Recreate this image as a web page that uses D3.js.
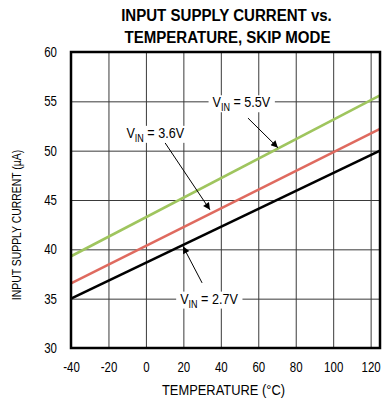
<!DOCTYPE html>
<html>
<head>
<meta charset="utf-8">
<script src="https://cdn.jsdelivr.net/npm/d3@7"></script>
<style>
	body { margin: 0; background: #fff; }
	text { font-family: 'Liberation Sans', Arial, sans-serif; fill: #000; }
	.grid line { stroke: #3a3a3a; stroke-width: 1; }
	.grid path { display: none; }
	.ticks path, .ticks line { display: none; }
</style>
</head>
<body>
<div id="chart"></div>
<script>
const temps = [-40, 125];
const vin27 = [35.0, 50.0];
const vin36 = [36.55, 52.2];
const vin55 = [39.3, 55.6];
const xTicks = [-40, -20, 0, 20, 40, 60, 80, 100, 120];
const yTicks = [30, 35, 40, 45, 50, 55, 60];

const series = [
	{ name: '5.5V', values: vin55, color: '#9fc55e' },
	{ name: '3.6V', values: vin36, color: '#df6a5f' },
	{ name: '2.7V', values: vin27, color: '#000' },
];

// label anchor and arrow (from -> to) in data units
const notes = [
	{ text: '5.5V', at: [51, 54.4], from: [54.5, 53.3], to: [70.5, 50.3] },
	{ text: '3.6V', at: [5, 51.3], from: [10.2, 50.8], to: [34.2, 44.0] },
	{ text: '2.7V', at: [33.7, 34.5], from: [30, 36.6], to: [19.8, 40.3] },
];

const size = { width: 390, height: 408 };
const margin = { top: 52, right: 10, bottom: 60, left: 71 };
const w = size.width - margin.left - margin.right;
const h = size.height - margin.top - margin.bottom;

const x = d3.scaleLinear().domain([-40, 125]).range([0, w]);
const y = d3.scaleLinear().domain([30, 60]).range([h, 0]);

// squeeze text to look like a narrow face
function narrow(sel, k) {
	sel.each(function () {
		const len = this.getComputedTextLength();
		d3.select(this).attr('textLength', len * k).attr('lengthAdjust', 'spacingAndGlyphs');
	});
}

const svg = d3.select('#chart').append('svg')
	.attr('width', size.width).attr('height', size.height);

svg.append('defs').append('marker').attr('id', 'head')
	.attr('viewBox', '0 0 10 10').attr('refX', 10).attr('refY', 5)
	.attr('markerWidth', 9).attr('markerHeight', 7)
	.attr('markerUnits', 'userSpaceOnUse').attr('orient', 'auto')
	.append('path').attr('d', 'M0,0L10,5L0,10Z').attr('fill', '#000');

svg.append('text').attr('x', margin.left + w / 2 + 1).attr('y', 21)
	.attr('text-anchor', 'middle').attr('font-size', 16).attr('font-weight', 'bold')
	.text('INPUT SUPPLY CURRENT vs.').call(narrow, 0.94);
svg.append('text').attr('x', margin.left + w / 2 + 2).attr('y', 43)
	.attr('text-anchor', 'middle').attr('font-size', 16).attr('font-weight', 'bold')
	.text('TEMPERATURE, SKIP MODE').call(narrow, 0.94);

const graph = svg.append('g')
	.attr('transform', `translate(${margin.left}, ${margin.top})`);

graph.append('g').classed('grid', true)
	.call(d3.axisTop(x).tickValues(xTicks).tickSizeInner(-h).tickSizeOuter(0).tickFormat(''));
graph.append('g').classed('grid', true)
	.call(d3.axisLeft(y).tickValues(yTicks).tickSizeInner(-w).tickSizeOuter(0).tickFormat(''));

const line = d3.line()
	.x((d, i) => x(temps[i]))
	.y(d => y(d));

graph.selectAll('path.series').data(series).join('path')
	.classed('series', true)
	.attr('d', d => line(d.values))
	.attr('fill', 'none')
	.attr('stroke', d => d.color)
	.attr('stroke-width', 2.6);

graph.append('rect').attr('width', w).attr('height', h)
	.attr('fill', 'none').attr('stroke', '#000').attr('stroke-width', 2.5);

graph.append('g').classed('ticks', true)
	.attr('transform', `translate(0, ${h})`)
	.call(d3.axisBottom(x).tickValues(xTicks).tickSize(0).tickPadding(14).tickFormat(String))
	.call(g => g.selectAll('text').attr('font-size', 14).call(narrow, 0.82));
graph.append('g').classed('ticks', true)
	.call(d3.axisLeft(y).tickValues(yTicks).tickSize(0).tickPadding(14).tickFormat(String))
	.call(g => g.selectAll('text').attr('font-size', 14).call(narrow, 0.82));
graph.selectAll('.ticks').attr('font-family', null).attr('font-size', null);

const note = graph.selectAll('g.note').data(notes).join('g').classed('note', true);
note.append('line')
	.attr('x1', d => x(d.from[0])).attr('y1', d => y(d.from[1]))
	.attr('x2', d => x(d.to[0])).attr('y2', d => y(d.to[1]))
	.attr('stroke', '#000').attr('stroke-width', 1)
	.attr('marker-end', 'url(#head)');
const label = note.append('text')
	.attr('x', d => x(d.at[0])).attr('y', d => y(d.at[1]))
	.attr('text-anchor', 'middle').attr('font-size', 14);
label.append('tspan').text('V');
label.append('tspan').attr('font-size', 10).attr('dy', 4).text('IN');
label.append('tspan').attr('dy', -4).text(d => ' = ' + d.text);
label.call(narrow, 0.9);
note.each(function () {
	const b = d3.select(this).select('text').node().getBBox();
	d3.select(this).insert('rect', 'text')
		.attr('x', b.x - 4).attr('y', b.y + 1)
		.attr('width', b.width + 8).attr('height', b.height - 2)
		.attr('fill', '#fff');
});

svg.append('text')
	.attr('transform', `translate(21, ${margin.top + h / 2 + 25}) rotate(-90)`)
	.attr('text-anchor', 'middle').attr('font-size', 13)
	.text('INPUT SUPPLY CURRENT (µA)').call(narrow, 0.8);
svg.append('text').attr('x', margin.left + w / 2 - 2).attr('y', 395)
	.attr('text-anchor', 'middle').attr('font-size', 14)
	.text('TEMPERATURE (°C)').call(narrow, 0.92);
</script>
</body>
</html>
